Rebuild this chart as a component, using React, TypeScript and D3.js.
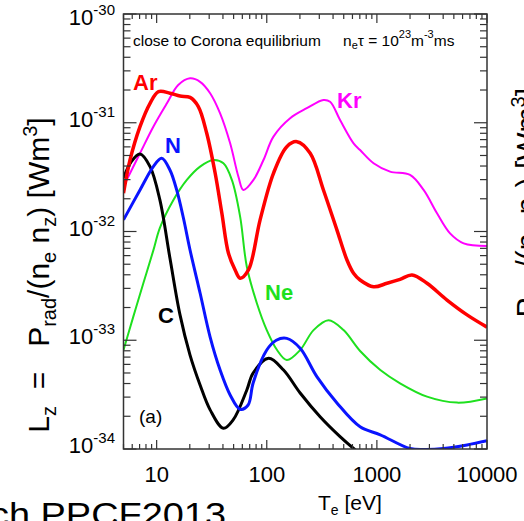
import React from "react";
import * as d3 from "d3";

const W = 524;
const H = 521;
const plot = { left: 123.5, right: 487, top: 14, bottom: 449 };

// T_e [eV] and L_z [W m^3] for each impurity
const arT = [5, 5.73, 7.06, 8.71, 10.4, 13.2, 16.3, 20.1, 23.9, 28.5, 34.0, 39.1, 44.9, 51.6, 57.3, 68.2, 87, 115, 152, 188, 248, 327, 434, 535, 614, 704, 933, 1236, 1623, 2085, 2853, 4335, 6590, 10000];
const arL = [2.25e-32, 4.54e-32, 9.2e-32, 1.51e-31, 1.93e-31, 1.87e-31, 1.76e-31, 1.71e-31, 1.41e-31, 8.0e-32, 3.43e-32, 1.47e-32, 6.3e-33, 4.43e-33, 3.72e-33, 4.43e-33, 1.28e-32, 3.43e-32, 6.03e-32, 6.7e-32, 5.24e-32, 2.41e-32, 1.03e-32, 5.47e-33, 4.13e-33, 3.58e-33, 3.1e-33, 3.34e-33, 3.63e-33, 3.98e-33, 3.34e-33, 2.34e-33, 1.71e-33, 1.32e-33];

const krT = [5, 7.06, 9.33, 12.4, 15.7, 20.1, 24.8, 30.6, 37.7, 46.5, 55.3, 61.4, 75.7, 93.3, 115, 163, 231, 327, 376, 463, 614, 704, 933, 1317, 2000, 2656, 3516, 4617, 6137, 10000];
const krL = [2.6e-32, 5.24e-32, 9.2e-32, 1.51e-31, 2.22e-31, 2.56e-31, 2.38e-31, 1.87e-31, 1.22e-31, 6.47e-32, 3.19e-32, 2.41e-32, 2.98e-32, 4.54e-32, 7.45e-32, 1.1e-31, 1.36e-31, 1.62e-31, 1.56e-31, 1.06e-31, 6.47e-32, 5.61e-32, 4.24e-32, 3.55e-32, 3.31e-32, 2.41e-32, 1.47e-32, 9.6e-33, 7.78e-33, 7.36e-33];

const neT = [5, 6.14, 7.57, 9.33, 10.7, 14.2, 18.8, 24.8, 32.7, 40.4, 48.2, 57.3, 65.9, 81.3, 100, 124, 152, 201, 266, 364, 498, 704, 1074, 1623, 2853, 5346, 10000];
const neL = [8.13e-34, 1.65e-33, 3.34e-33, 6.7e-33, 1.08e-32, 1.95e-32, 2.98e-32, 3.95e-32, 4.54e-32, 4.24e-32, 2.98e-32, 1.37e-32, 4.74e-33, 2.19e-33, 1.24e-33, 8.13e-34, 6.58e-34, 8.13e-34, 1.24e-33, 1.53e-33, 1.24e-33, 7.96e-34, 5.32e-34, 4.02e-34, 3.03e-34, 2.67e-34, 2.92e-34];

const nT = [5, 7.06, 9.33, 11.1, 13.2, 15.2, 17.5, 20.1, 24.8, 30.6, 37.7, 46.5, 57.3, 67.7, 75.2, 100, 122, 152, 201, 285, 434, 704, 1074, 2000, 2810, 4018, 6590, 10000];
const nL = [1.28e-32, 2.41e-32, 3.95e-32, 4.71e-32, 3.68e-32, 2.41e-32, 1.33e-32, 6.76e-33, 2.72e-33, 1.07e-33, 5.32e-34, 3.14e-34, 2.32e-34, 2.54e-34, 4.05e-34, 8.13e-34, 1.0e-33, 1.04e-33, 8.44e-34, 4.63e-34, 2.65e-34, 1.6e-34, 1.35e-34, 1.01e-34, 9.9e-35, 1.01e-34, 1.09e-34, 1.19e-34];

const cT = [5, 5.85, 7.06, 8.71, 10.7, 13.2, 16.3, 20.1, 24.8, 30.6, 40.4, 49.5, 65.9, 75.2, 104, 142, 201, 305, 463, 637, 784];
const cL = [3.1e-32, 4.35e-32, 5.16e-32, 3.95e-32, 1.95e-32, 5.7e-33, 1.71e-33, 7.31e-34, 3.88e-34, 2.29e-34, 1.55e-34, 1.85e-34, 3.49e-34, 5.0e-34, 6.83e-34, 5.32e-34, 3.27e-34, 1.98e-34, 1.3e-34, 9.8e-35, 8.3e-35];

const xTickValues = [10, 100, 1000, 10000];
const yTickExponents = [-30, -31, -32, -33, -34];

const series = [
  { name: "Kr", T: krT, L: krL, color: "#ff00ff", width: 2 },
  { name: "Ne", T: neT, L: neL, color: "#1ee01e", width: 2 },
  { name: "C", T: cT, L: cL, color: "#000000", width: 3 },
  { name: "N", T: nT, L: nL, color: "#0a14ff", width: 3 },
  { name: "Ar", T: arT, L: arL, color: "#ff0000", width: 3.5 },
];

const labels = [
  { text: "Ar", x: 133, y: 90, color: "#ff0000" },
  { text: "Kr", x: 337, y: 108, color: "#ff00ff" },
  { text: "N", x: 165, y: 153, color: "#0a14ff" },
  { text: "Ne", x: 265, y: 300, color: "#1ee01e" },
  { text: "C", x: 158, y: 323, color: "#000000" },
];

const font = "'Liberation Sans', Arial, Helvetica, sans-serif";

export default function App() {
  const x = d3.scaleLog().domain([5, 10000]).range([plot.left, plot.right]);
  const y = d3.scaleLog().domain([1e-34, 1e-30]).range([plot.bottom, plot.top]);

  const line = d3
    .line<[number, number]>()
    .x((d) => x(d[0]))
    .y((d) => y(d[1]))
    .curve(d3.curveCatmullRom.alpha(0.5));

  // minor ticks 2..9 in each decade
  const xMinor: number[] = [];
  for (let k = 0; k <= 4; k++)
    for (let m = 2; m <= 9; m++) {
      const v = m * Math.pow(10, k);
      if (v >= 5 && v <= 10000) xMinor.push(v);
    }
  const yMinor: number[] = [];
  for (let k = -34; k < -30; k++)
    for (let m = 2; m <= 9; m++) yMinor.push(m * Math.pow(10, k));

  const axisColor = "#333";
  const sub = 20;

  return (
    <svg width={W} height={H} style={{ position: "absolute", left: 0, top: 0, background: "#fff" }} fontFamily={font}>
      <defs>
        <clipPath id="plotClip">
          <rect x={plot.left} y={plot.top} width={plot.right - plot.left} height={plot.bottom - plot.top} />
        </clipPath>
      </defs>

      {/* curves */}
      <g clipPath="url(#plotClip)">
        {series.map((s) => (
          <path
            key={s.name}
            d={line(s.T.map((t, i) => [t, s.L[i]] as [number, number])) || ""}
            fill="none"
            stroke={s.color}
            strokeWidth={s.width}
            strokeLinejoin="round"
          />
        ))}
      </g>

      {/* ticks */}
      <g stroke={axisColor} strokeWidth={1.2}>
        {xMinor.map((v) => (
          <g key={"xm" + v}>
            <line x1={x(v)} x2={x(v)} y1={plot.bottom} y2={plot.bottom - 5} />
            <line x1={x(v)} x2={x(v)} y1={plot.top} y2={plot.top + 5} />
          </g>
        ))}
        {xTickValues.map((v) => (
          <g key={"xM" + v}>
            <line x1={x(v)} x2={x(v)} y1={plot.bottom} y2={plot.bottom - 9} />
            <line x1={x(v)} x2={x(v)} y1={plot.top} y2={plot.top + 9} />
          </g>
        ))}
        {yMinor.map((v) => (
          <g key={"ym" + v}>
            <line x1={plot.left} x2={plot.left + 7} y1={y(v)} y2={y(v)} />
            <line x1={plot.right} x2={plot.right - 7} y1={y(v)} y2={y(v)} />
          </g>
        ))}
        {yTickExponents.map((e) => (
          <g key={"yM" + e}>
            <line x1={plot.left} x2={plot.left + 13} y1={y(Math.pow(10, e))} y2={y(Math.pow(10, e))} />
            <line x1={plot.right} x2={plot.right - 13} y1={y(Math.pow(10, e))} y2={y(Math.pow(10, e))} />
          </g>
        ))}
      </g>

      {/* frame */}
      <rect
        x={plot.left}
        y={plot.top}
        width={plot.right - plot.left}
        height={plot.bottom - plot.top}
        fill="none"
        stroke={axisColor}
        strokeWidth={1.5}
      />

      {/* tick labels */}
      {xTickValues.map((v) => (
        <text key={"xl" + v} x={x(v)} y={482} fontSize={22} textAnchor="middle" fill="#000">
          {v}
        </text>
      ))}
      {yTickExponents.map((e) => (
        <text
          key={"yl" + e}
          x={115}
          y={Math.max(y(Math.pow(10, e)) + 4, 25)}
          fontSize={22}
          textAnchor="end"
          fill="#000"
        >
          10
          <tspan fontSize={15} dy={-10}>
            {e}
          </tspan>
        </text>
      ))}

      {/* axis titles */}
      <text x={318} y={510} fontSize={21} fill="#000">
        T<tspan fontSize={14} dy={5}>e</tspan>
        <tspan dy={-5}> [eV]</tspan>
      </text>
      <text transform="translate(49, 275) rotate(-90)" fontSize={30} textAnchor="middle" fill="#000">
        L<tspan fontSize={sub} dy={7}>z</tspan>
        <tspan dy={-7}>{"\u00a0 = \u00a0\u00a0P"}</tspan>
        <tspan fontSize={sub} dy={7}>rad</tspan>
        <tspan dy={-7}>/(n</tspan>
        <tspan fontSize={sub} dy={7}>e</tspan>
        <tspan dy={-7}> n</tspan>
        <tspan fontSize={sub} dy={7}>z</tspan>
        <tspan dy={-7}>) [Wm</tspan>
        <tspan fontSize={sub} dy={-12}>3</tspan>
        <tspan dy={12}>]</tspan>
      </text>

      {/* neighbouring panel's axis title, cut off at the edge */}
      <text transform="translate(537, 88) rotate(-90)" fontSize={30} textAnchor="end" fill="#000">
        P<tspan fontSize={sub} dy={7}>rad</tspan>
        <tspan dy={-7}>/(n</tspan>
        <tspan fontSize={sub} dy={7}>e</tspan>
        <tspan dy={-7}> n</tspan>
        <tspan fontSize={sub} dy={7}>z</tspan>
        <tspan dy={-7}>) [Wm</tspan>
        <tspan fontSize={sub} dy={-12}>3</tspan>
        <tspan dy={12}>]</tspan>
      </text>

      {/* slide caption fragment */}
      <text x={226} y={526} fontSize={33} textAnchor="end" textLength={236} lengthAdjust="spacingAndGlyphs" fill="#000">
        ch PPCF2013
      </text>

      {/* annotations */}
      <text x={133} y={46} fontSize={15.5} fill="#000">
        close to Corona equilibrium
      </text>
      <text x={343} y={46} fontSize={15.5} fill="#000">
        n<tspan fontSize={11} dy={3}>e</tspan>
        <tspan dy={-3}>τ = 10</tspan>
        <tspan fontSize={11} dy={-8}>23</tspan>
        <tspan dy={8}>m</tspan>
        <tspan fontSize={11} dy={-8}>-3</tspan>
        <tspan dy={8}>ms</tspan>
      </text>
      <text x={139} y={423} fontSize={19} fill="#000">
        (a)
      </text>

      {labels.map((l) => (
        <text key={l.text} x={l.x} y={l.y} fontSize={22} fontWeight="bold" fill={l.color}>
          {l.text}
        </text>
      ))}
    </svg>
  );
}
